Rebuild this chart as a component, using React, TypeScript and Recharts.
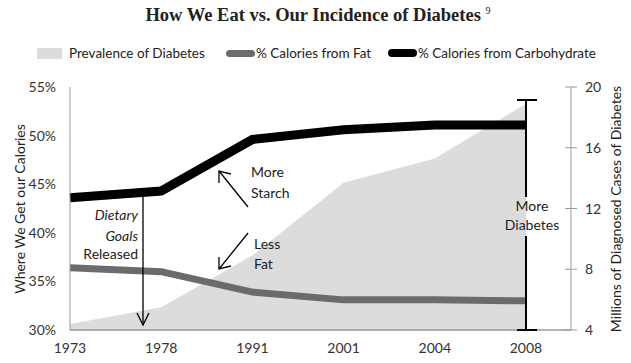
import { Area, ComposedChart, Line, XAxis, YAxis } from "recharts"

const YEARS = ["1973", "1978", "1991", "2001", "2004", "2008"]
// millions of diagnosed cases (right axis)
const DIABETES_MILLIONS = [4.4, 5.5, 8.9, 13.7, 15.3, 18.9]
// share of calories, percent (left axis)
const FAT_PCT = [36.4, 36.0, 33.9, 33.1, 33.1, 33.0]
const CARB_PCT = [43.6, 44.3, 49.6, 50.6, 51.1, 51.1]
const PCT_TICKS = [30, 35, 40, 45, 50, 55]
const MILLION_TICKS = [4, 8, 12, 16, 20]

const FONT = "Lato, 'Open Sans', sans-serif"
const AREA_FILL = "#dcdcdc"
const FAT_STROKE = "#6b6b6b"
const AXIS_STROKE = "#9a9a9a"

const data = YEARS.map((year, i) => ({
  year,
  diabetes: DIABETES_MILLIONS[i],
  fat: FAT_PCT[i],
  carb: CARB_PCT[i],
}))

// right axis: Excel-style tick mark crossing the axis line
function CrossTick(props: any) {
  const { x, y, payload } = props
  return (
    <g>
      <line x1={x - 6} x2={x + 6} y1={y} y2={y} stroke={AXIS_STROKE} />
      <text x={x + 14} y={y} dy={5} fontSize={14} fontFamily={FONT} fill="#333">
        {payload.value}
      </text>
    </g>
  )
}

function LegendItem({ left, swatch, label }: { left: number; swatch: "area" | "fat" | "carb"; label: string }) {
  const sw =
    swatch === "area" ? (
      <span style={{ display: "inline-block", width: 25, height: 11, background: AREA_FILL, marginRight: 7 }} />
    ) : (
      <span
        style={{
          display: "inline-block",
          width: 29,
          height: swatch === "carb" ? 8 : 7,
          borderRadius: 4,
          background: swatch === "carb" ? "#000" : FAT_STROKE,
          marginRight: 1,
        }}
      />
    )
  return (
    <div
      style={{
        position: "absolute",
        left,
        top: 45,
        display: "flex",
        alignItems: "center",
        fontFamily: FONT,
        fontSize: 13.5,
        color: "#222",
        whiteSpace: "nowrap",
      }}
    >
      {sw}
      {label}
    </div>
  )
}

export default function App() {
  return (
    <div style={{ position: "relative", width: 631, height: 363, background: "#fff" }}>
      <style>{`body { margin: 0; }`}</style>
      <div
        style={{
          position: "absolute",
          top: 5,
          left: 0,
          width: 636,
          textAlign: "center",
          fontFamily: "'Liberation Serif', serif",
          fontWeight: "bold",
          fontSize: 18.5,
          color: "#222",
        }}
      >
        How We Eat vs. Our Incidence of Diabetes <sup style={{ fontSize: 10, fontWeight: "normal" }}>9</sup>
      </div>
      <LegendItem left={37} swatch="area" label="Prevalence of Diabetes" />
      <LegendItem left={226} swatch="fat" label="% Calories from Fat" />
      <LegendItem left={388} swatch="carb" label="% Calories from Carbohydrate" />

      <ComposedChart
        width={631}
        height={363}
        data={data}
        margin={{ top: 87, right: 0, bottom: 0, left: 0 }}
        style={{ position: "absolute", left: 0, top: 0 }}
      >
        <XAxis
          dataKey="year"
          height={33}
          padding={{ left: 0, right: 45 }}
          tickLine={false}
          tickSize={0}
          tickMargin={13}
          axisLine={{ stroke: AXIS_STROKE, strokeWidth: 1.5 }}
          tick={{ fontSize: 14, fontFamily: FONT, fill: "#333" }}
        />
        <YAxis
          yAxisId="left"
          width={70}
          domain={[30, 55]}
          ticks={PCT_TICKS}
          tickFormatter={(v) => `${v}%`}
          tickLine={false}
          tickSize={0}
          tickMargin={14}
          axisLine={{ stroke: AXIS_STROKE }}
          tick={{ fontSize: 14, fontFamily: FONT, fill: "#333" }}
        />
        <YAxis
          yAxisId="right"
          orientation="right"
          width={60}
          domain={[4, 20]}
          ticks={MILLION_TICKS}
          tickLine={false}
          tickSize={0}
          tickMargin={0}
          axisLine={{ stroke: AXIS_STROKE }}
          tick={<CrossTick />}
        />
        <Area
          yAxisId="right"
          dataKey="diabetes"
          type="linear"
          fill={AREA_FILL}
          fillOpacity={1}
          stroke="none"
          isAnimationActive={false}
        />
        <Line
          yAxisId="left"
          dataKey="fat"
          type="linear"
          stroke={FAT_STROKE}
          strokeWidth={7}
          dot={false}
          isAnimationActive={false}
        />
        <Line
          yAxisId="left"
          dataKey="carb"
          type="linear"
          stroke="#000"
          strokeWidth={9}
          dot={false}
          isAnimationActive={false}
        />
      </ComposedChart>

      {/* annotations and axis titles */}
      <svg
        width={631}
        height={363}
        style={{ position: "absolute", left: 0, top: 0, pointerEvents: "none" }}
        fontFamily={FONT}
      >
        <text transform="translate(25,209) rotate(-90)" textAnchor="middle" fontSize={14} fill="#222">
          Where We Get our Calories
        </text>
        <text transform="translate(621,209) rotate(-90)" textAnchor="middle" fontSize={14} fill="#222">
          Millions of Diagnosed Cases of Diabetes
        </text>

        <g fontSize={14} fill="#222" textAnchor="end">
          <text x={138} y={220} fontStyle="italic">Dietary</text>
          <text x={138} y={241} fontStyle="italic">Goals</text>
          <text x={138} y={259}>Released</text>
        </g>
        <g stroke="#000" strokeWidth={1.3} fill="none">
          <line x1={143} y1={190} x2={143} y2={325} />
          <polyline points="137,313 143,325 149,313" />
          <line x1={248} y1={207} x2={219} y2={171} />
          <polyline points="219,183 219,171 231,174" />
          <line x1={248} y1={233} x2={219} y2={269} />
          <polyline points="219,257 219,269 231,266" />
        </g>
        <g fontSize={14} fill="#222">
          <text x={251} y={177}>More</text>
          <text x={251} y={198}>Starch</text>
          <text x={254} y={249}>Less</text>
          <text x={254} y={269}>Fat</text>
        </g>

        <g stroke="#000" strokeWidth={2}>
          <line x1={526} y1={100} x2={526} y2={197} />
          <line x1={526} y1={236} x2={526} y2={330} />
          <line x1={517} y1={100} x2={537} y2={100} />
          <line x1={517} y1={330} x2={537} y2={330} />
        </g>
        <g fontSize={14} fill="#222" textAnchor="middle">
          <text x={532} y={211}>More</text>
          <text x={532} y={230}>Diabetes</text>
        </g>
      </svg>
    </div>
  )
}
